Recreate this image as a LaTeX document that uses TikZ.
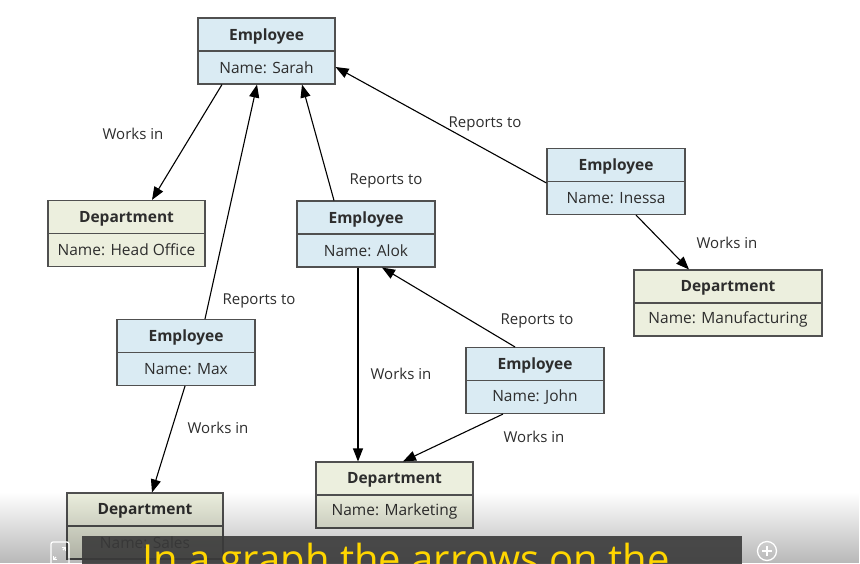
\documentclass[tikz,border=0pt]{standalone}
\usepackage{fontspec}
\setmainfont{Open Sans}
\usetikzlibrary{arrows.meta,fadings,calc}
\definecolor{empfill}{RGB}{218,235,243}
\definecolor{depfill}{RGB}{236,239,222}
\definecolor{boxline}{RGB}{80,80,80}
\definecolor{txt}{RGB}{45,45,45}
\definecolor{subbox}{RGB}{58,58,58}
\definecolor{subtxt}{RGB}{255,214,0}
\tikzfading[name=bottomfade, top color=transparent!100, bottom color=transparent!72]
\tikzset{
  cls/.style={draw=boxline, line width=1.1pt, minimum height=66pt, inner sep=0pt},
  emp/.style={cls, fill=empfill},
  dep/.style={cls, fill=depfill},
  hdr/.style={font=\fontsize{15.5}{18}\selectfont\bfseries, text=txt, inner sep=0pt},
  val/.style={font=\fontsize{15.5}{18}\selectfont, text=txt, inner sep=0pt},
  lbl/.style={font=\fontsize{15}{18}\selectfont, text=txt, inner sep=0pt},
  rel/.style={draw=black, line width=1.1pt, -{Triangle[length=13pt,width=10pt]}},
}
\newcommand\classbox[7]{%
  \node[#2, minimum width=#5pt] (#1) at (#3,#4) {};
  \draw[boxline, line width=1.1pt] (#1.west) -- (#1.east);
  \node[hdr] (#1-h) at ([yshift=15pt]#1.center) {#6};
  \node[val] (#1-v) at ([yshift=-16.5pt]#1.center) {#7};
}
\begin{document}
\begin{tikzpicture}[x=1pt,y=-1pt]
\useasboundingbox (0,0) rectangle (860,563);
\clip (0,0) rectangle (860,563);
\fill[white] (0,0) rectangle (860,563);

\classbox{sarah}{emp}{266.5}{51}{137}{Employee}{Name: Sarah}
\classbox{head}{dep}{126.5}{233.5}{157}{Department}{Name: Head Office}
\classbox{inessa}{emp}{616}{181.5}{138}{Employee}{Name: Inessa}
\classbox{manu}{dep}{728}{303}{188}{Department}{Name: Manufacturing}
\classbox{alok}{emp}{366}{234}{138}{Employee}{Name: Alok}
\classbox{max}{emp}{186}{352.5}{138}{Employee}{Name: Max}
\classbox{john}{emp}{535}{380.5}{138}{Employee}{Name: John}
\classbox{mkt}{dep}{394.5}{495}{157}{Department}{Name: Marketing}
\classbox{sales}{dep}{145}{526}{156}{Department}{Name: Sales}

% connectors
\draw[rel] ([xshift=-44.5pt]sarah.south) -- ([xshift=25.5pt]head.north);
\draw[rel] ([xshift=-32pt]alok.north) -- ([xshift=35.5pt]sarah.south);
\draw[rel] ([xshift=19pt]max.north) -- ([xshift=-9.5pt]sarah.south);
\draw[rel] ([yshift=-1.5pt]inessa.west) -- ([yshift=-16pt]sarah.east);
\draw[rel] ([xshift=20pt]inessa.south) -- ([xshift=-39pt]manu.north);
\draw[rel] ([xshift=-8pt]alok.south) -- ([xshift=-36.5pt]mkt.north);
\draw[rel] ([xshift=-20pt]john.north) -- ([xshift=16pt]alok.south);
\draw[rel] ([xshift=-32pt]john.south) -- ([xshift=8.5pt]mkt.north);
\draw[rel] ([xshift=-1pt]max.south) -- ([xshift=7pt]sales.north);

% labels
\node[lbl] (l1) at (133,134) {Works in};
\node[lbl] (l2) at (386,181) {Reports to};
\node[lbl] (l3) at (259,301) {Reports to};
\node[lbl] (l4) at (485,124) {Reports to};
\node[lbl] (l5) at (727,243) {Works in};
\node[lbl] (l6) at (401,374) {Works in};
\node[lbl] (l7) at (537,321) {Reports to};
\node[lbl] (l8) at (534,437) {Works in};
\node[lbl] (l9) at (218,428) {Works in};

% video overlay
\fill[black, path fading=bottomfade] (0,492) rectangle (860,563);
\fill[subbox, opacity=0.9] (82,536) rectangle (742,570);
\node[anchor=base west, inner sep=0pt, text=subtxt, font=\fontsize{40}{48}\selectfont] (sub) at (142,573) {In a graph the arrows on the};
\draw[white, line width=1.2pt, rounded corners=2pt] (51,542) rectangle (69,566);
\draw[white, line width=1.1pt, -{Straight Barb[length=2.5pt]}] (56,557) -- (53,560);
\draw[white, line width=1.1pt, -{Straight Barb[length=2.5pt]}] (63,550) -- (66,547);
\node[draw=white, line width=1.3pt, circle, minimum size=19pt, inner sep=0pt] (plus) at (767,551) {};
\draw[white, line width=1.3pt] ([xshift=-5pt]plus.center) -- ([xshift=5pt]plus.center);
\draw[white, line width=1.3pt] ([yshift=-5pt]plus.center) -- ([yshift=5pt]plus.center);
\end{tikzpicture}
\end{document}
